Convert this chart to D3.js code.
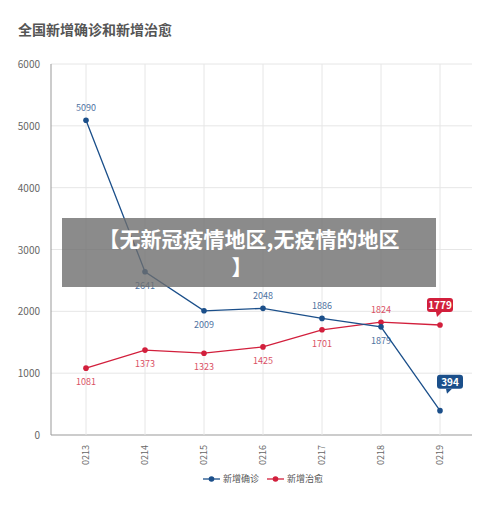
<!DOCTYPE html><html><head><meta charset="utf-8"><script src="https://cdn.jsdelivr.net/npm/d3@7"></script>
<style>body{margin:0;background:#fff;font-family:"Noto Sans CJK SC","Noto Sans",sans-serif}</style></head><body><svg id="c" width="500" height="507"></svg>
<script>
const dates=["0213","0214","0215","0216","0217","0218","0219"];
const confirmed=[5090,2641,2009,2048,1886,1749,394];
const confirmedLabels=["5090","2641","2009","2048","1886","1879","394"];
const cured=[1081,1373,1323,1425,1701,1824,1779];
const yTicks=[0,1000,2000,3000,4000,5000,6000];
const confPos=["a","b","b","a","a","b","box"];
const curePos=["b","b","b","b","b","a","box"];
const svg=d3.select("#c");
const x=d3.scalePoint().domain(dates).range([86,440]);
const y=d3.scaleLinear().domain([0,6000]).range([435,64]);
svg.append("text").attr("x",18).attr("y",35).text("全国新增确诊和新增治愈").attr("font-size",14).attr("font-weight","bold").attr("fill","#555");
const g=svg.append("g");
yTicks.forEach(t=>{g.append("line").attr("x1",51).attr("x2",472).attr("y1",y(t)).attr("y2",y(t)).attr("stroke",t?"#e6e6e6":"#999");
g.append("text").attr("x",40).attr("y",y(t)+4).attr("text-anchor","end").attr("font-size",10).attr("fill","#666").text(t);});
dates.forEach(d=>{g.append("line").attr("x1",x(d)).attr("x2",x(d)).attr("y1",64).attr("y2",435).attr("stroke","#e6e6e6");
g.append("text").attr("transform",`translate(${x(d)+3},${445}) rotate(-90)`).attr("text-anchor","end").attr("font-size",9).attr("fill","#666").text(d);});
g.append("line").attr("x1",51).attr("x2",51).attr("y1",64).attr("y2",435).attr("stroke","#999");
function series(vals,labels,pos,col,dx,dy){
 const line=d3.line().x((v,i)=>x(dates[i])).y(v=>y(v));
 g.append("path").attr("d",line(vals)).attr("fill","none").attr("stroke",col).attr("stroke-width",1.3);
 vals.forEach((v,i)=>{const cx=x(dates[i]),cy=y(v);
  g.append("circle").attr("cx",cx).attr("cy",cy).attr("r",2.8).attr("fill",col);
  if(pos[i]==="box"){const w=26,h=14,bx=cx+dx,by=cy+dy;
   g.append("rect").attr("x",bx-w/2).attr("y",by).attr("width",w).attr("height",h).attr("rx",3).attr("fill",col);
   g.append("path").attr("d",`M${bx-4},${by+h}L${bx+2},${by+h}L${bx-3},${by+h+5}Z`).attr("fill",col);
   g.append("text").attr("x",bx).attr("y",by+11).attr("text-anchor","middle").attr("font-size",10).attr("font-weight","bold").attr("fill","#fff").text(labels[i]);}
  else g.append("text").attr("x",cx).attr("y",pos[i]==="a"?cy-9:cy+17).attr("text-anchor","middle").attr("font-size",9).attr("fill",col).attr("opacity",0.8).text(labels[i]);
 });}
series(cured,cured.map(String),curePos,"#d21f3c",0,-27);
series(confirmed,confirmedLabels,confPos,"#1b4f8a",10,-36);
[["新增确诊","#1b4f8a",203],["新增治愈","#d21f3c",267]].forEach(([t,c,lx])=>{
 svg.append("line").attr("x1",lx).attr("x2",lx+17).attr("y1",479).attr("y2",479).attr("stroke",c).attr("stroke-width",1.3);
 svg.append("circle").attr("cx",lx+8.5).attr("cy",479).attr("r",2.8).attr("fill",c);
 svg.append("text").attr("x",lx+20).attr("y",482).attr("font-size",9).attr("fill","#555").text(t);});
svg.append("rect").attr("x",62).attr("y",218).attr("width",374).attr("height",69).attr("fill","rgba(110,110,110,0.8)");
svg.append("text").attr("x",249).attr("y",247).attr("text-anchor","middle").attr("font-size",21).attr("font-weight","bold").attr("fill","#fff").text("【无新冠疫情地区,无疫情的地区");
svg.append("text").attr("x",242).attr("y",275).attr("text-anchor","middle").attr("font-size",21).attr("font-weight","bold").attr("fill","#fff").text("】");
</script></body></html>
